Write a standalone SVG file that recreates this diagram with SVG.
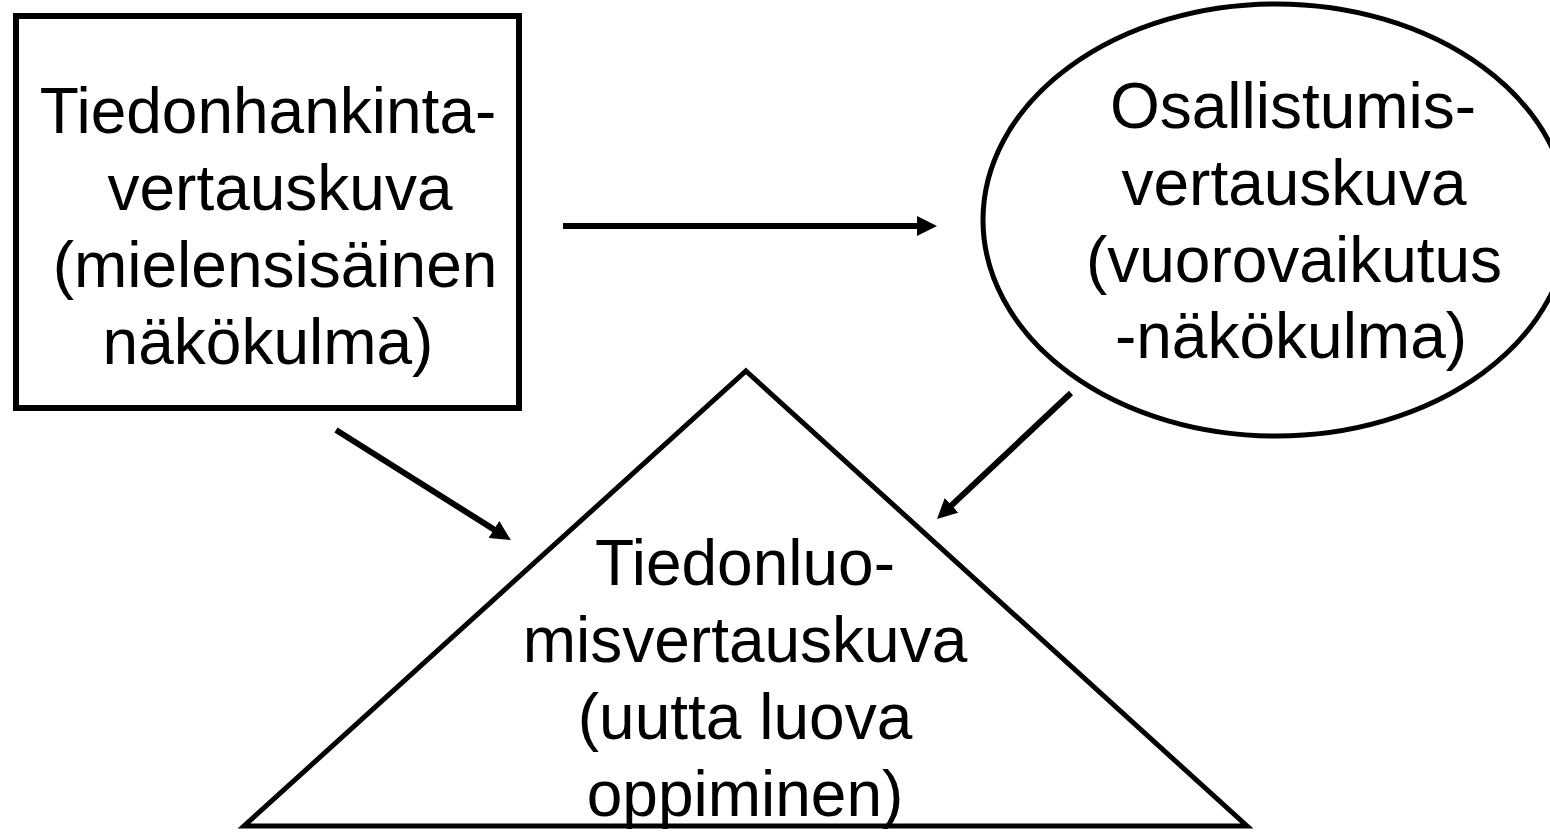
<svg xmlns="http://www.w3.org/2000/svg" width="1550" height="833" viewBox="0 0 1550 833">
<style>
.shape{fill:#fff;stroke:#000;stroke-width:5}
.lbl{font-family:"Liberation Sans",Arial,sans-serif;font-size:64px;fill:#000;text-anchor:middle}
.conn{stroke:#000;stroke-width:6;fill:none;marker-end:url(#ah)}
</style>
<defs>
<marker id="ah" viewBox="0 0 20 20" refX="6" refY="10" markerWidth="20" markerHeight="20" markerUnits="userSpaceOnUse" orient="auto">
<path d="M0,0 L20,10 L0,20 z" fill="#000"/>
</marker>
</defs>
<rect width="1550" height="833" fill="#fff"/>
<g id="node-tiedonhankinta">
<rect class="shape" x="16" y="16" width="503" height="392" style="stroke-width:6"/>
<text class="lbl" x="268" y="133">Tiedonhankinta-</text>
<text class="lbl" x="280" y="210">vertauskuva</text>
<text class="lbl" x="275" y="287">(mielensisäinen</text>
<text class="lbl" x="268" y="364">näkökulma)</text>
</g>
<g id="node-osallistumis">
<ellipse class="shape" cx="1276" cy="220" rx="293" ry="216"/>
<text class="lbl" x="1293" y="128">Osallistumis-</text>
<text class="lbl" x="1294" y="205">vertauskuva</text>
<text class="lbl" x="1294" y="282">(vuorovaikutus</text>
<text class="lbl" x="1291" y="358">-näkökulma)</text>
</g>
<g id="node-tiedonluomis">
<polygon class="shape" points="746,371 1247,826 244,826"/>
<text class="lbl" x="745" y="585">Tiedonluo-</text>
<text class="lbl" x="745" y="662">misvertauskuva</text>
<text class="lbl" x="745" y="739">(uutta luova</text>
<text class="lbl" x="745" y="816">oppiminen)</text>
</g>
<g id="connectors">
<line class="conn" x1="563" y1="226" x2="923" y2="226"/>
<line class="conn" x1="336" y1="430" x2="499" y2="532.6"/>
<line class="conn" x1="1071" y1="393" x2="947.2" y2="509.4"/>
</g>
</svg>
